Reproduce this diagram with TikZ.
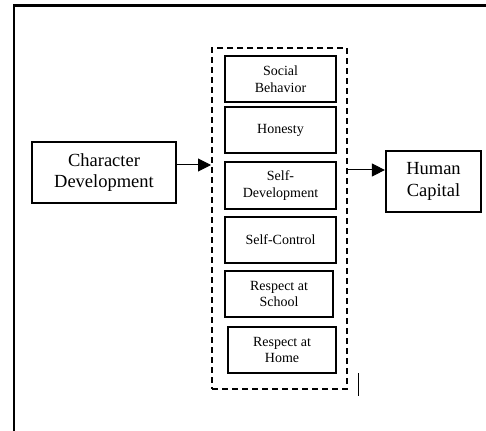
\documentclass[tikz,border=0pt]{standalone}
\usepackage{fontspec}
\setmainfont{Liberation Serif}
\usetikzlibrary{arrows.meta}
\tikzset{
  mainbox/.style={draw, line width=2.2pt, align=center, inner sep=0pt,
    font=\fontsize{18.5}{21.5}\selectfont},
  traitbox/.style={draw, line width=2pt, align=center, inner sep=0pt,
    minimum width=111pt, minimum height=46pt,
    font=\fontsize{14}{16.5}\selectfont},
  groupbox/.style={draw, dashed, dash pattern=on 6pt off 4pt, line width=2pt, inner sep=0pt},
  link/.style={line width=1pt, -{Triangle[length=13pt,width=13pt]}}
}
\begin{document}
\begin{tikzpicture}[x=1pt,y=1pt]
    \useasboundingbox (0,0) rectangle (486,-430);

    % frame
    \draw [line width=2.2pt] (14,-431) -- (14,-5.5) -- (487,-5.5);

    % left and right
    \node [mainbox, minimum width=144pt, minimum height=61pt] (chardev) at (104,-172.5) {Character\\Development};
    \node [mainbox, minimum width=95pt, minimum height=61pt] (humcap) at (433.5,-181.5) {Human\\Capital};

    % dashed group
    \node [groupbox, minimum width=135pt, minimum height=341pt] (group) at (279.5,-218.5) {};

    % traits
    \node [traitbox] (social) at (280.5,-79) {Social\\Behavior};
    \node [traitbox] (honesty) at (280.5,-130) {Honesty};
    \node [traitbox] (selfdev) at (280.5,-185.5) {Self-\\Development};
    \node [traitbox] (selfctrl) at (280.5,-240) {Self-Control};
    \node [traitbox, minimum width=108pt] (school) at (279,-294) {Respect at\\School};
    \node [traitbox, minimum width=108pt] (home) at (282,-350) {Respect at\\Home};

    % arrows
    \draw [link] ([yshift=7.5pt]chardev.east) -- ([yshift=7.5pt]chardev.east -| group.west);
    \draw [link] ([yshift=11.5pt]humcap.west -| group.east) -- ([yshift=11.5pt]humcap.west);

    % stray mark
    \coordinate (marktop) at (358,-373);
    \coordinate (markbot) at (358,-396);
    \draw [line width=1pt] (marktop) -- (markbot);
\end{tikzpicture}
\end{document}
